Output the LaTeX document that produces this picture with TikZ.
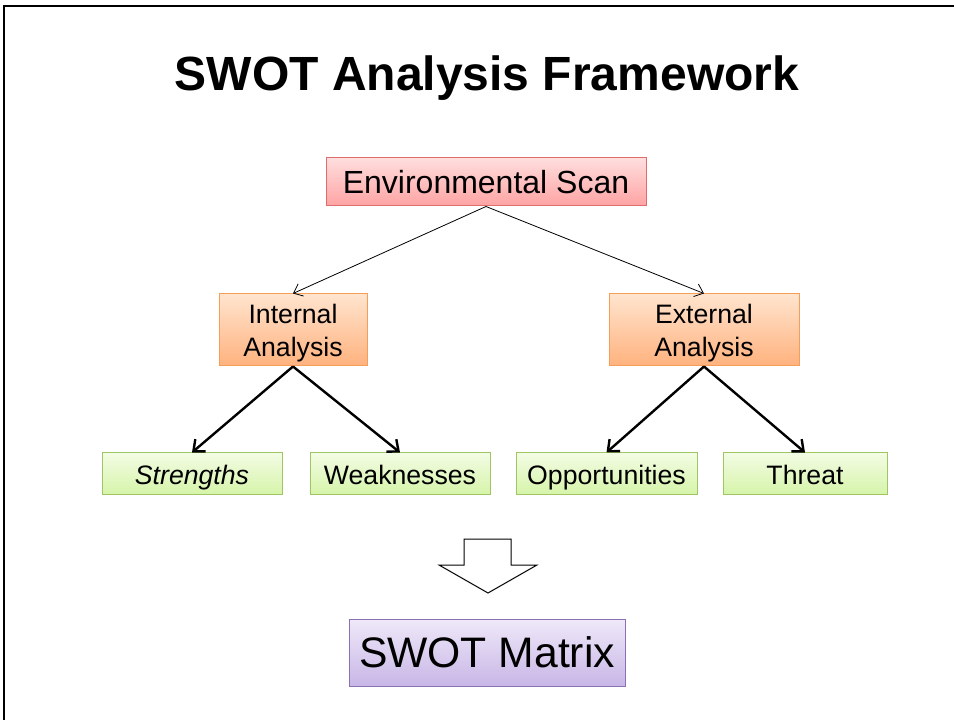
\documentclass[tikz,border=0pt]{standalone}
\usepackage{fontspec}
\setmainfont{Liberation Sans}
\usepackage{xcolor}
\usepackage{tikz}
\usetikzlibrary{arrows.meta}

\definecolor{scanTop}{RGB}{255,222,222}
\definecolor{scanBot}{RGB}{255,163,163}
\definecolor{scanLine}{RGB}{222,110,110}
\definecolor{anaTop}{RGB}{255,228,206}
\definecolor{anaBot}{RGB}{255,178,126}
\definecolor{anaLine}{RGB}{246,158,88}
\definecolor{swTop}{RGB}{243,252,228}
\definecolor{swBot}{RGB}{214,244,170}
\definecolor{swLine}{RGB}{160,198,100}
\definecolor{mxTop}{RGB}{239,233,249}
\definecolor{mxBot}{RGB}{200,182,230}
\definecolor{mxLine}{RGB}{140,112,182}

\begin{document}
\begin{tikzpicture}[x=0.75pt, y=-0.75pt,
    box/.style={draw, rectangle, inner sep=0pt, line width=0.75pt, align=center},
    scanbox/.style={box, draw=scanLine, top color=scanTop, bottom color=scanBot,
        minimum width=240pt, minimum height=36pt, font=\fontsize{24}{28}\selectfont},
    anabox/.style={box, draw=anaLine, top color=anaTop, bottom color=anaBot,
        minimum height=54pt, text depth=0pt, font=\fontsize{20}{24.75}\selectfont},
    swbox/.style={box, draw=swLine, top color=swTop, bottom color=swBot,
        minimum height=30.75pt, text height=15.8pt, text depth=0pt, font=\fontsize{20}{24}\selectfont},
    mxbox/.style={box, draw=mxLine, top color=mxTop, bottom color=mxBot,
        minimum width=207pt, minimum height=50.25pt, font=\fontsize{32}{38}\selectfont},
    thinarr/.style={-{Straight Barb[length=6pt,width=10pt]}, line width=0.6pt},
    thickarr/.style={-{Straight Barb[length=7pt,width=12pt]}, line width=1.8pt}]
        \useasboundingbox (0,0) rectangle (954,720);

        % Frame
        \draw[line width=1.6pt] (954,6) -- (4,6) -- (4,720);

        % Title
        \node[anchor=base, font=\fontsize{36}{42}\selectfont\bfseries] (title) at (487, 91) {SWOT Analysis Framework};

        % Scan
        \node[scanbox] (scan) at (486, 182) {Environmental Scan};

        % Internal / External
        \node[anabox, minimum width=111pt] (internal) at (293, 330) {Internal\\Analysis};
        \node[anabox, minimum width=142.5pt] (external) at (704, 330) {External\\Analysis};

        % SWOT items
        \node[swbox, minimum width=135pt] (strengths) at (192, 473.5) {\itshape Strengths};
        \node[swbox, minimum width=135pt] (weaknesses) at (400, 473.5) {Weaknesses};
        \node[swbox, minimum width=135.75pt] (opportunities) at (606.5, 473.5) {Opportunities};
        \node[swbox, minimum width=123pt] (threat) at (805, 473.5) {Threat};

        % Connections
        \draw[thinarr] (scan.south) -- (internal.north);
        \draw[thinarr] (scan.south) -- (external.north);
        \draw[thickarr] (internal.south) -- (strengths.north);
        \draw[thickarr] (internal.south) -- (weaknesses.north);
        \draw[thickarr] (external.south) -- (opportunities.north);
        \draw[thickarr] (external.south) -- (threat.north);

        % Block arrow
        \draw[line width=0.75pt, fill=white] (464,539) -- (511,539) -- (511,565) -- (537,565)
            -- (488,593) -- (439,565) -- (464,565) -- cycle;

        % Result
        \node[mxbox] (matrix) at (487, 652.5) {SWOT Matrix};
    \end{tikzpicture}
\end{document}
